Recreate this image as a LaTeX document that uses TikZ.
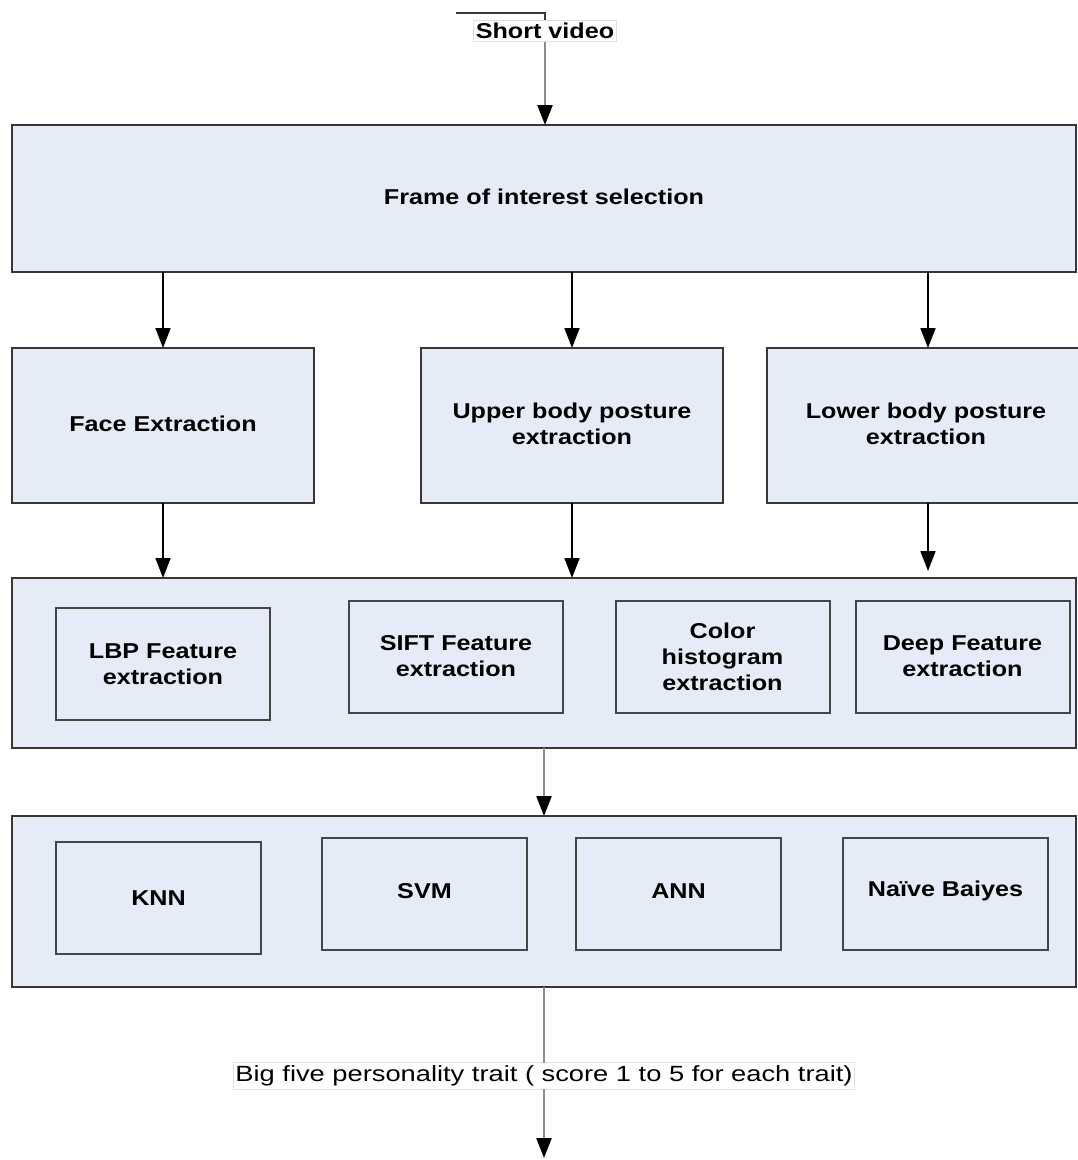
\documentclass[tikz,border=0pt]{standalone}
\usepackage{fontspec}
\setmainfont{Liberation Sans}
\newfontfamily\bxfont{Liberation Sans}[FakeStretch=1.17]
\newfontfamily\rgfont{Liberation Sans}[FakeStretch=1.24]
\usetikzlibrary{arrows.meta}
\definecolor{boxfill}{RGB}{230,236,247}
\definecolor{edge}{RGB}{55,55,55}
\definecolor{iedge}{RGB}{70,70,70}
\definecolor{gline}{RGB}{140,140,140}
\begin{document}
\begin{tikzpicture}[x=1pt,y=-1pt,
  every node/.style={inner sep=0pt, outer sep=0pt},
  txt/.style={align=center, font=\bxfont\bfseries\fontsize{21.5}{26}\selectfont},
  bigbox/.style={txt, draw=edge, line width=1.5pt, fill=boxfill},
  innerbox/.style={txt, draw=iedge, line width=2pt, fill=boxfill},
  fbox/.style={innerbox, minimum width=214pt, minimum height=112pt},
  cbox/.style={innerbox, minimum width=205pt, minimum height=112pt},
  lbl/.style={fill=white, draw=black!12, line width=0.8pt, inner xsep=2pt, inner ysep=3pt},
  arr/.style={draw=black, line width=1.8pt, -{Triangle[width=15pt,length=20pt]}},
  garr/.style={draw=gline, line width=2.4pt, -{Triangle[width=15pt,length=20pt,color=black]}},
  gl/.style={draw=gline, line width=2.4pt}]
\fill[white] (0,0) rectangle (1078,1160);
\clip (0,0) rectangle (1078,1160);

% top input
\node[lbl, txt] (sv) at (545,31) {Short video};
\coordinate (svstart) at (456,13);
\draw[draw=edge, line width=1.5pt] (svstart) -| (sv.north);

% frame selection
\node[bigbox, minimum width=1064pt, minimum height=147pt] (frame) at (544,198.5) {};
\node[txt] (frametxt) at (544,197) {Frame of interest selection};

% row 2
\node[bigbox, minimum width=302pt, minimum height=155pt] (face) at (163,425.5) {};
\node[txt] at (163,424) {Face Extraction};
\node[bigbox, minimum width=302pt, minimum height=155pt] (upper) at (572,425.5) {};
\node[txt] at (572,424) {Upper body posture\\extraction};
\node[bigbox, minimum width=322pt, minimum height=155pt] (lower) at (928,425.5) {};
\node[txt] at (926,424) {Lower body posture\\extraction};

% row 3
\node[bigbox, minimum width=1064pt, minimum height=170pt] (feat) at (544,663) {};
\node[fbox] (lbp) at (163,664) {LBP Feature\\extraction};
\node[fbox] (sift) at (456,656.5) {SIFT Feature\\extraction};
\node[fbox] (color) at (722.5,656.5) {Color\\histogram\\extraction};
\node[fbox] (deep) at (962.5,656.5) {Deep Feature\\extraction};

% row 4
\node[bigbox, minimum width=1064pt, minimum height=171pt] (clf) at (544,901.5) {};
\node[cbox] (knn) at (158.5,898) {KNN};
\node[cbox] (svm) at (424.5,894) {};
\node[txt] at (424.5,891) {SVM};
\node[cbox] (ann) at (678.5,894) {};
\node[txt] at (678.5,891) {ANN};
\node[cbox] (nb) at (945.5,894) {};
\node[txt] at (945.5,891) {Naïve Baiyes};

% output
\node[lbl, font=\rgfont\fontsize{22}{26}\selectfont] (bf) at (544,1076) {Big five personality trait ( score 1 to 5 for each trait)};
\coordinate (out) at (544,1158);

% connectors
\draw[garr] (sv.south) -- (sv.south |- frame.north);
\draw[arr] (frame.south -| face.north) -- (face.north);
\draw[arr] (frame.south -| upper.north) -- (upper.north);
\draw[arr] (frame.south -| lower.north) -- (lower.north);
\draw[arr] (face.south) -- (face.south |- feat.north);
\draw[arr] (upper.south) -- (upper.south |- feat.north);
\draw[arr, shorten >=7pt] (lower.south) -- (lower.south |- feat.north);
\draw[garr] (feat.south) -- (clf.north);
\draw[gl] (clf.south) -- (bf.north);
\draw[garr] (bf.south) -- (out);
\end{tikzpicture}
\end{document}
